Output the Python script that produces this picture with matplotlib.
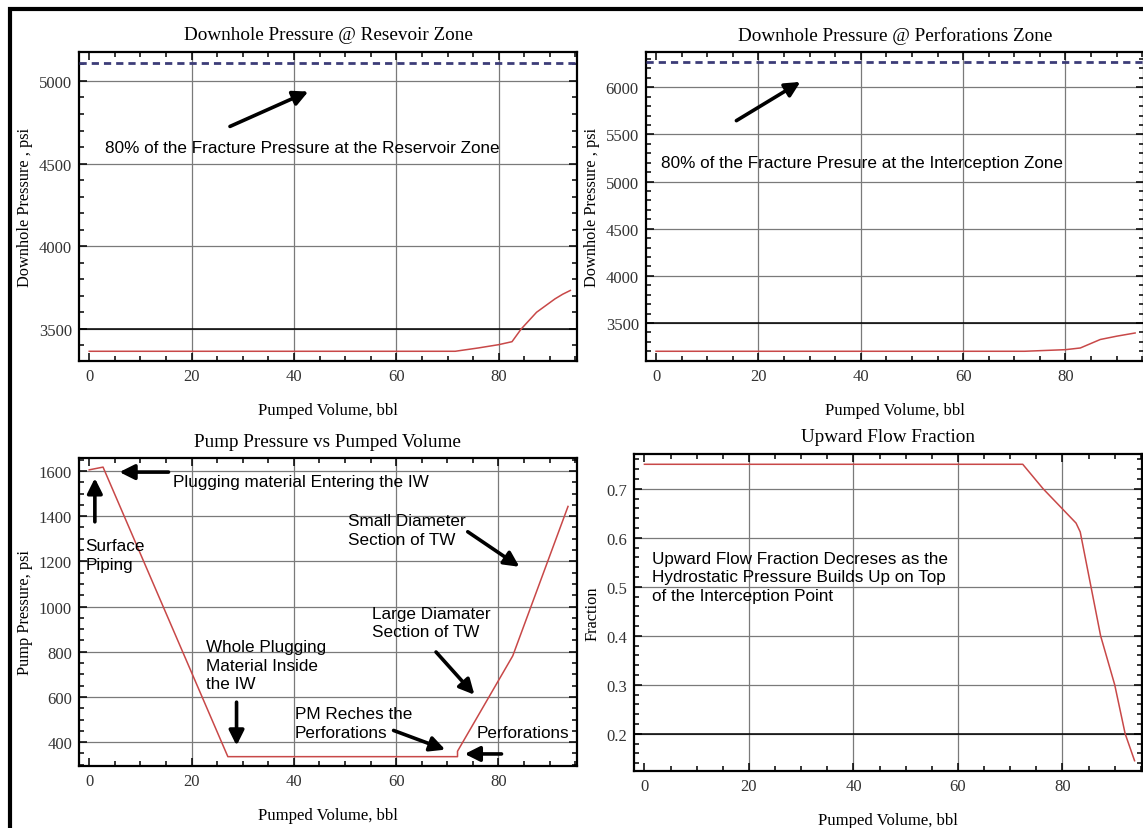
import matplotlib
matplotlib.use("Agg")
import matplotlib.pyplot as plt
from matplotlib.patches import Rectangle
from matplotlib.ticker import MultipleLocator

# ---- data ----
vol_res = [0, 71.5, 76, 80, 82.6, 84.4, 87.4, 91, 92.5, 94]
p_res = [3365, 3365, 3385, 3405, 3423, 3500, 3601, 3682, 3710, 3733]
frac_res = 5110

vol_perf = [0, 72, 80, 82.9, 86.8, 90, 93.6]
p_perf = [3200, 3200, 3217, 3235, 3325, 3360, 3394]
frac_perf = 6268

vol_pump = [0, 2.7, 27.1, 72, 72, 82.8, 93.6]
p_pump = [1605, 1617, 336, 336, 360, 782, 1443]

vol_frac = [0, 72.4, 76.3, 82.6, 83.4, 87.3, 90, 92, 93.8]
upward = [0.75, 0.75, 0.70, 0.63, 0.612, 0.40, 0.30, 0.20, 0.145]

W, H = 1143, 829
SERIF = "Liberation Serif"
SANS = "Liberation Sans"
RED = "#c84848"


def rect(l, r, t, b):
    return [l / W, 1 - b / H, (r - l) / W, (b - t) / H]


def style(ax, ylim, ymajor, yminor, title, ylabel, fmt=None):
    ax.set_xlim(-2, 95.3)
    ax.set_ylim(*ylim)
    ax.xaxis.set_major_locator(MultipleLocator(20))
    ax.xaxis.set_minor_locator(MultipleLocator(5))
    ax.yaxis.set_major_locator(MultipleLocator(ymajor))
    ax.yaxis.set_minor_locator(MultipleLocator(yminor))
    ax.tick_params(which="both", direction="in", top=True, right=True,
                   labelsize=12, colors="black", labelcolor="#333333", width=1.1)
    ax.tick_params(which="major", length=6, pad=5)
    ax.tick_params(which="minor", length=3.5)
    for lab in ax.get_xticklabels() + ax.get_yticklabels():
        lab.set_fontfamily(SERIF)
    if fmt:
        ax.yaxis.set_major_formatter(fmt)
    for s in ax.spines.values():
        s.set_linewidth(1.6)
    for xv in [20, 40, 60, 80]:
        ax.axvline(xv, color="#7a7a7a", lw=0.9, zorder=1)
    lo, hi = ylim
    yv = (int(lo / ymajor) + 1) * ymajor
    while yv < hi:
        ax.axhline(yv, color="#7a7a7a", lw=0.9, zorder=1)
        yv += ymajor
    ax.set_title(title, fontfamily=SERIF, fontsize=13.8, pad=9)
    ax.set_xlabel("Pumped Volume, bbl", fontfamily=SERIF, fontsize=12, labelpad=13)
    ax.set_ylabel(ylabel, fontfamily=SERIF, fontsize=11.8, labelpad=4)


def arrow(ax, tail, head):
    ax.annotate("", xy=head, xytext=tail,
                arrowprops=dict(arrowstyle="-|>,head_length=0.9,head_width=0.45",
                                color="black", lw=2.6, shrinkA=0, shrinkB=0), zorder=5)


fig = plt.figure(figsize=(W / 100, H / 100), dpi=100)

# outer frame
fig.patches.append(Rectangle((9.5 / W, -0.1), 1.2, 1.1 - 10.3 / H, transform=fig.transFigure,
                             fill=False, edgecolor="black", lw=3.0))

kw = dict(fontfamily=SANS, fontsize=12.3, va="center", ha="left", zorder=6, linespacing=1.3)

# ---- top left ----
ax1 = fig.add_axes(rect(79, 577, 52.7, 361.7))
style(ax1, (3308, 5177), 500, 100, "Downhole Pressure @ Resevoir Zone", "Downhole Pressure , psi")
ax1.axhline(3500, color="black", lw=1.1, zorder=2)
ax1.axhline(frac_res, color="#3c3c78", lw=2, dashes=(2.6, 1.8), zorder=3)
ax1.plot(vol_res, p_res, color=RED, lw=1.1, zorder=4)
ax1.text(3, 4600, "80% of the Fracture Pressure at the Reservoir Zone", **kw)
arrow(ax1, (27.5, 4725), (42.8, 4936))

# ---- top right ----
ax2 = fig.add_axes(rect(645.8, 1143.8, 53.3, 361.7))
style(ax2, (3100, 6371), 500, 100, "Downhole Pressure @ Perforations Zone", "Downhole Pressure , psi")
ax2.axhline(3500, color="black", lw=1.1, zorder=2)
ax2.axhline(frac_perf, color="#3c3c78", lw=2, dashes=(2.6, 1.8), zorder=3)
ax2.plot(vol_perf, p_perf, color=RED, lw=1.1, zorder=4)
ax2.text(1.0, 5204, "80% of the Fracture Presure at the Interception Zone", **kw)
arrow(ax2, (15.7, 5646), (28.2, 6057))

# ---- bottom left ----
ax3 = fig.add_axes(rect(79, 576.7, 459.3, 766.7))
style(ax3, (296, 1656), 200, 50, "Pump Pressure vs Pumped Volume", "Pump Pressure, psi")
ax3.plot(vol_pump, p_pump, color=RED, lw=1.1, zorder=4)
ax3.text(16.4, 1552, "Plugging material Entering the IW", **kw)
arrow(ax3, (15.5, 1595), (5.9, 1595))
ax3.text(-0.7, 1228, "Surface\nPiping", **kw)
arrow(ax3, (1.1, 1375), (1.1, 1568))
ax3.text(50.5, 1338, "Small Diameter\nSection of TW", **kw)
arrow(ax3, (74.0, 1331), (84.1, 1176))
ax3.text(55.2, 930, "Large Diamater\nSection of TW", **kw)
arrow(ax3, (67.8, 799), (75.3, 610))
ax3.text(22.9, 740, "Whole Plugging\nMaterial Inside\nthe IW", **kw)
arrow(ax3, (28.8, 577), (28.8, 385))
ax3.text(40.2, 485, "PM Reches the\nPerforations", **kw)
arrow(ax3, (59.5, 452), (69.6, 367))
ax3.text(75.8, 441, "Perforations", **kw)
arrow(ax3, (80.6, 348), (73.4, 348))

# ---- bottom right ----
ax4 = fig.add_axes(rect(634, 1142.4, 455, 772))
style(ax4, (0.124, 0.771), 0.1, 0.02, "Upward Flow Fraction", "Fraction",
      fmt=matplotlib.ticker.FormatStrFormatter("%.1f"))
ax4.axhline(0.2, color="black", lw=1.1, zorder=2)
ax4.plot(vol_frac, upward, color=RED, lw=1.1, zorder=4)
ax4.text(1.5, 0.52, "Upward Flow Fraction Decreses as the\nHydrostatic Pressure Builds Up on Top\n"
         "of the Interception Point", **kw)

fig.savefig("out.png", dpi=100)
